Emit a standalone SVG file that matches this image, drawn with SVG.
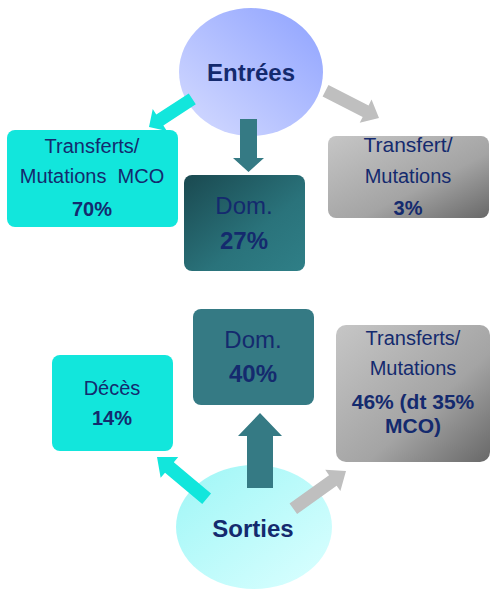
<svg xmlns="http://www.w3.org/2000/svg" width="490" height="591" viewBox="0 0 490 591">
<defs>
<linearGradient id="gEnt" x1="0" y1="1" x2="1" y2="0"><stop offset="0" stop-color="#d6dcff"/><stop offset="1" stop-color="#8ea2ff"/></linearGradient>
<linearGradient id="gSor" x1="0" y1="0" x2="1" y2="1"><stop offset="0" stop-color="#9ef6f6"/><stop offset="1" stop-color="#dcffff"/></linearGradient>
<linearGradient id="gDom" x1="0" y1="0" x2="1" y2="1"><stop offset="0" stop-color="#1a4950"/><stop offset="0.6" stop-color="#2a737b"/><stop offset="1" stop-color="#2f7f87"/></linearGradient>
<linearGradient id="gGrey" x1="0" y1="0" x2="1" y2="1"><stop offset="0" stop-color="#c6c6c6"/><stop offset="0.6" stop-color="#a4a4a4"/><stop offset="1" stop-color="#686868"/></linearGradient>
<polygon id="arr" points="0,0 -15,-13 -15,-6.5 -60,-6.5 -60,6.5 -15,6.5 -15,13"/>
</defs>
<style>
text{font-family:"Liberation Sans",Arial,sans-serif;fill:#142a6e;text-anchor:middle;font-size:20px}
.b{font-weight:bold}
.d{font-size:24px}
.t{font-size:24px;font-weight:bold}
.cy{fill:#12e6dc}
.tl{fill:#357a84}
.gr{fill:#bfbfbf}
</style>
<g id="entrees"><ellipse cx="251" cy="72" rx="72" ry="64" fill="url(#gEnt)"/><text class="t" x="251" y="81">Entrées</text></g>
<g id="sorties"><ellipse cx="254" cy="527" rx="78" ry="62" fill="url(#gSor)"/><text class="t" x="253" y="537">Sorties</text></g>
<g id="connectors">
<g transform="translate(149,127) rotate(147)"><use href="#arr" class="cy" transform="scale(0.86,1)"/></g>
<g transform="translate(379,118) rotate(27)"><use href="#arr" class="gr"/></g>
<polygon class="tl" points="240,119 257,119 257,158 264,158 248.5,172 233,158 240,158"/>
<g transform="translate(157,457) rotate(-140)"><use href="#arr" class="cy" transform="scale(1.08,1.05)"/></g>
<g transform="translate(346,471) rotate(-35.6)"><use href="#arr" class="gr" transform="scale(1.08,1)"/></g>
<polygon class="tl" points="247,488 273,488 273,436 282,436 260,413 238,436 247,436"/>
</g>
<g id="box-mco"><rect x="7" y="130" width="171" height="97" rx="8" class="cy"/><text x="92" y="153">Transferts/</text><text x="92" y="183" xml:space="preserve">Mutations  MCO</text><text class="b" x="92" y="216">70%</text></g>
<g id="box-dom27"><rect x="184" y="175" width="121" height="96" rx="8" fill="url(#gDom)"/><text class="d" x="244" y="214">Dom.</text><text class="t" x="244" y="249">27%</text></g>
<g id="box-tm3"><rect x="328" y="136" width="161" height="82" rx="8" fill="url(#gGrey)"/><text x="408" y="152" style="font-size:21px">Transfert/</text><text x="408" y="183">Mutations</text><text class="b" x="408" y="215">3%</text></g>
<g id="box-deces"><rect x="52" y="355" width="121" height="96" rx="8" class="cy"/><text x="112" y="395">Décès</text><text class="b" x="112" y="425">14%</text></g>
<g id="box-dom40"><rect x="193" y="309" width="121" height="96" rx="8" class="tl"/><text class="d" x="253" y="348">Dom.</text><text class="t" x="253" y="382">40%</text></g>
<g id="box-tm46"><rect x="336" y="325" width="154" height="137" rx="10" fill="url(#gGrey)"/><text x="413" y="345">Transferts/</text><text x="413" y="375">Mutations</text><text class="b" x="413" y="409" style="font-size:21px">46% (dt 35%</text><text class="b" x="413" y="433" style="font-size:21px">MCO)</text></g>
</svg>
